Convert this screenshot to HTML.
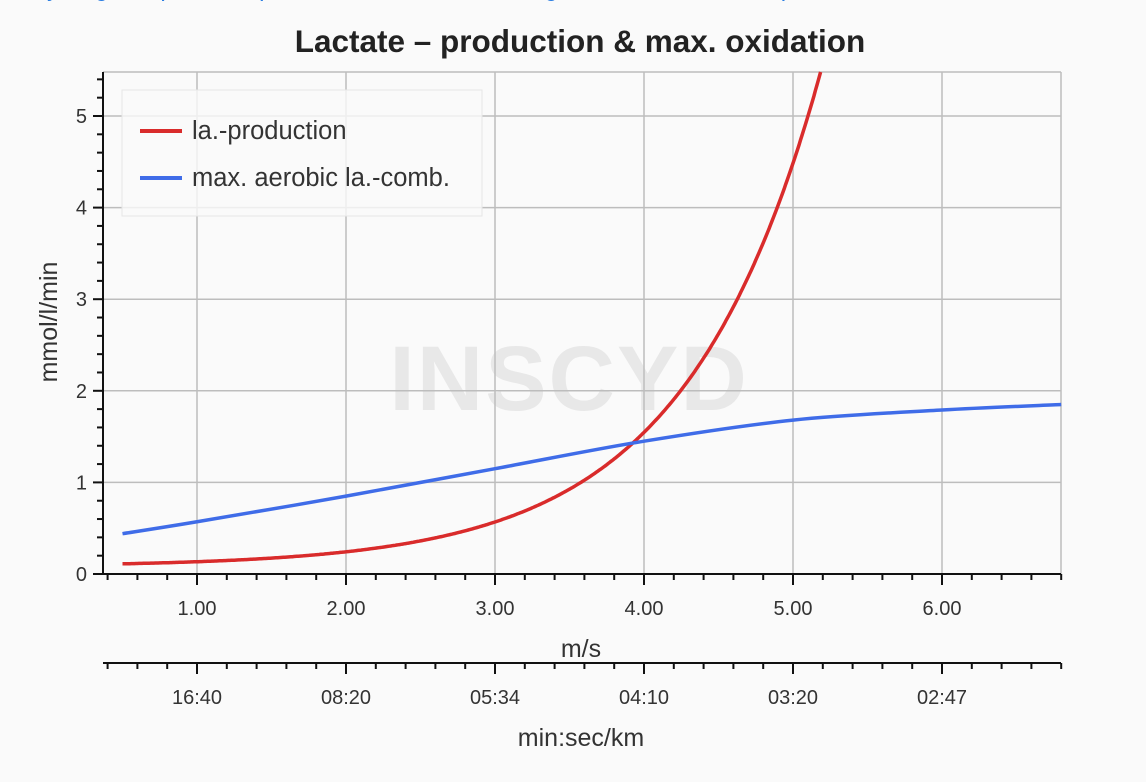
<!DOCTYPE html>
<html><head><meta charset="utf-8"><style>
html,body{margin:0;padding:0;background:#fafafa;width:1146px;height:782px;overflow:hidden;font-family:"Liberation Sans",Arial,sans-serif}
</style></head><body>
<svg id="s" width="1146" height="782" xmlns="http://www.w3.org/2000/svg" font-family="Liberation Sans, Arial, sans-serif">
<rect width="1146" height="782" fill="#fafafa"/>
<text x="35" y="-4" font-size="24" fill="#2a7de1">cycling test protocol, power and heart rate settings and zones data output</text>
<text x="580" y="52" text-anchor="middle" font-size="31.5" font-weight="bold" fill="#222">Lactate – production &amp; max. oxidation</text>
<text x="569" y="410" text-anchor="middle" font-size="92" font-weight="bold" fill="#e8e8e8" letter-spacing="2">INSCYD</text>
<g id="grid" stroke="#bdbdbd" stroke-width="1.5"></g>
<g id="ax" stroke="#111" stroke-width="2"></g>
<rect x="122" y="90" width="360" height="126" fill="#fafafa" fill-opacity="0.8" stroke="#e6e6e6"/>
<line x1="140" y1="131" x2="182" y2="131" stroke="#d92b2b" stroke-width="4"/>
<text x="192" y="139" font-size="25.5" fill="#333">la.-production</text>
<line x1="140" y1="178" x2="182" y2="178" stroke="#3f6ce8" stroke-width="4"/>
<text x="192" y="186" font-size="25.5" fill="#333">max. aerobic la.-comb.</text>
<path id="red" fill="none" stroke="#d92b2b" stroke-width="3.5"/>
<path id="blue" fill="none" stroke="#3f6ce8" stroke-width="3.5"/>
<g id="lab" font-size="20" fill="#333"></g>
<text x="581" y="657" text-anchor="middle" font-size="25" fill="#333">m/s</text>
<text x="581" y="746" text-anchor="middle" font-size="25" fill="#333">min:sec/km</text>
<text transform="translate(57,322) rotate(-90)" text-anchor="middle" font-size="25" fill="#333">mmol/l/min</text>
</svg>
<script>
var X=v=>48+149*v, Y=v=>574-91.6*v, L=103,R=1061,T=72,B=574;
var ns="http://www.w3.org/2000/svg";
function el(p,t,a,txt){var e=document.createElementNS(ns,t);for(var k in a)e.setAttribute(k,a[k]);if(txt)e.textContent=txt;document.getElementById(p).appendChild(e);}
for(var i=1;i<=6;i++)el("grid","line",{x1:X(i),x2:X(i),y1:T,y2:B});
for(var j=1;j<=5;j++)el("grid","line",{x1:L,x2:R,y1:Y(j),y2:Y(j)});
el("grid","line",{x1:L,x2:R,y1:T,y2:T});el("grid","line",{x1:R,x2:R,y1:T,y2:B});
el("ax","line",{x1:L,x2:L,y1:T,y2:B+1});
el("ax","line",{x1:L-10,x2:R,y1:B,y2:B});
el("ax","line",{x1:L,x2:R,y1:663,y2:663});
for(var t=0.4;t<=6.81;t+=0.2){var maj=Math.abs(t-Math.round(t))<0.01;
el("ax","line",{x1:X(t),x2:X(t),y1:B,y2:B+(maj?11:6)});
el("ax","line",{x1:X(t),x2:X(t),y1:663,y2:663+(maj?11:6)});}
for(var t=0.2;t<5.5;t+=0.2){var maj=Math.abs(t-Math.round(t))<0.01;el("ax","line",{x1:L-(maj?10:6),x2:L,y1:Y(t),y2:Y(t)});}
var pl=["16:40","08:20","05:34","04:10","03:20","02:47"];
for(var i=1;i<=6;i++){el("lab","text",{x:X(i),y:615,"text-anchor":"middle"},i+".00");el("lab","text",{x:X(i),y:704,"text-anchor":"middle"},pl[i-1]);}
for(var j=0;j<=5;j++)el("lab","text",{x:L-16,y:Y(j)+7,"text-anchor":"end"},""+j);
var d="",lastv=0.5;for(var v=0.5;v<=5.3;v+=0.01){var y=0.08+0.018*Math.exp(1.1*v);if(y>5.48){break;}lastv=v;d+=(d?"L":"M")+X(v).toFixed(1)+","+Y(y).toFixed(1);}
var vt=Math.log((5.48-0.08)/0.018)/1.1;
d+="L"+X(vt).toFixed(1)+","+T;document.getElementById("red").setAttribute("d",d);
var bp=[[0.5,0.44],[1,0.57],[2,0.85],[3,1.15],[4,1.45],[5,1.68],[6,1.79],[6.8,1.85]];
var db="M"+X(bp[0][0])+","+Y(bp[0][1]);
for(var k=0;k<bp.length-1;k++){var p0=bp[Math.max(0,k-1)],p1=bp[k],p2=bp[k+1],p3=bp[Math.min(bp.length-1,k+2)];
var c1=[p1[0]+(p2[0]-p0[0])/6,p1[1]+(p2[1]-p0[1])/6],c2=[p2[0]-(p3[0]-p1[0])/6,p2[1]-(p3[1]-p1[1])/6];
db+="C"+X(c1[0])+","+Y(c1[1])+" "+X(c2[0])+","+Y(c2[1])+" "+X(p2[0])+","+Y(p2[1]);}
document.getElementById("blue").setAttribute("d",db);
</script>
</body></html>
